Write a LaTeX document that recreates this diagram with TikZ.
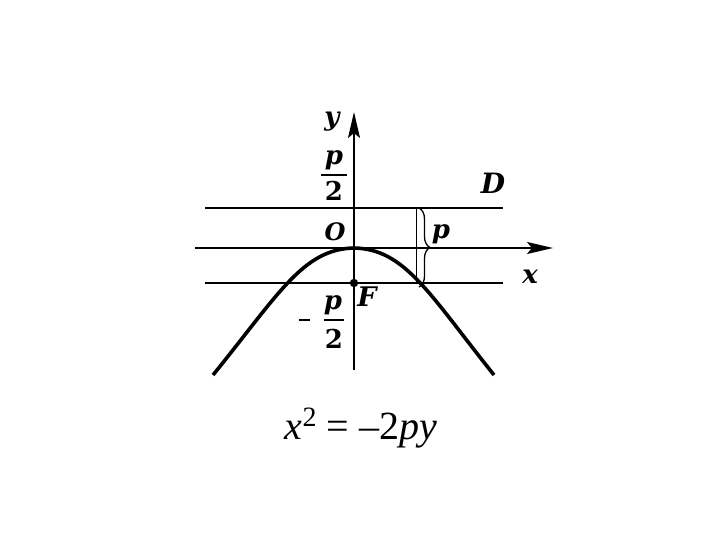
\documentclass[tikz,border=0pt]{standalone}
\usepackage{fontspec}
\newfontfamily\eqfont{Liberation Serif}
\newfontfamily\lblfont{DejaVu Serif}
\usetikzlibrary{arrows.meta,decorations.pathreplacing}
\tikzset{
  axisline/.style={line width=#1, -{Stealth[length=26pt,width=12pt,inset=5pt]}},
  guide/.style={line width=1.5pt},
  curve/.style={line width=3.6pt, line join=round},
  lbl/.style={inner sep=0pt, font=\lblfont\bfseries\itshape\fontsize{#1}{#1}\selectfont},
  lbl/.default=26,
  num/.style={inner sep=0pt, font=\lblfont\bfseries\fontsize{#1}{#1}\selectfont},
  num/.default=26,
  fracbar/.style={line width=1.2pt}
}
\begin{document}
\begin{tikzpicture}[x=1pt,y=-1pt]
\useasboundingbox[fill=white] (0,0) rectangle (720,540);
% coordinates
\coordinate (O) at (354,248);
\coordinate (xl) at (195,248);
\coordinate (xr) at (553,248);
\coordinate (yb) at (354,370);
\coordinate (yt) at (354,112);
\coordinate (dl) at (205,208);
\coordinate (dr) at (503,208);
\coordinate (fl) at (205,283);
\coordinate (fr) at (503,283);
\coordinate (F) at (354,283);
\coordinate (vt) at (416,208);
\coordinate (vb) at (416,283);
\coordinate (bt) at (419,208);
\coordinate (bb) at (419,287);
\coordinate (pl) at (213,375);
\coordinate (pr) at (494,375);
\coordinate (b1l) at (321,175);
\coordinate (b1r) at (347,175);
\coordinate (b2l) at (324,320);
\coordinate (b2r) at (344,320);
\coordinate (ml) at (299,320);
\coordinate (mr) at (310,320);
% lines
\draw[guide] (dl) -- (dr);
\draw[guide] (fl) -- (fr);
\draw[axisline=2pt] (xl) -- (xr);
\draw[axisline=1.3pt] (yb) -- (yt);
\draw[line width=1pt] (vt) -- (vb);
\draw[line width=1.3pt, decorate, decoration={brace, amplitude=11pt}] (bt) -- (bb);
% parabola
\draw[curve] (pl) .. controls (279,293.75) and (303,249) .. (O)
  .. controls (405,249) and (429,293.75) .. (pr);
\fill (F) circle (4.2pt);
% labels
\node[lbl] (ly) at (332,122) {y};
\node[lbl] (lx) at (530,277) {x};
\node[lbl=28] (lD) at (493,183) {D};
\node[lbl=24] (lO) at (335,232) {O};
\node[lbl] (lp) at (441,234) {p};
\node[lbl=27] (lF) at (367,297) {F};
% p/2
\node[lbl] (n1) at (334,160) {p};
\draw[fracbar] (b1l) -- (b1r);
\node[num] (d1) at (334,191) {2};
% -p/2
\draw[fracbar] (ml) -- (mr);
\node[lbl] (n2) at (333,305) {p};
\draw[fracbar] (b2l) -- (b2r);
\node[num] (d2) at (334,339) {2};
\node[inner sep=0pt, font=\eqfont\fontsize{40}{40}\selectfont] (eq) at (361,428)
  {\textit{x}\raisebox{13pt}{\fontsize{28}{28}\selectfont 2} = –2\textit{py}};
\end{tikzpicture}
\end{document}
